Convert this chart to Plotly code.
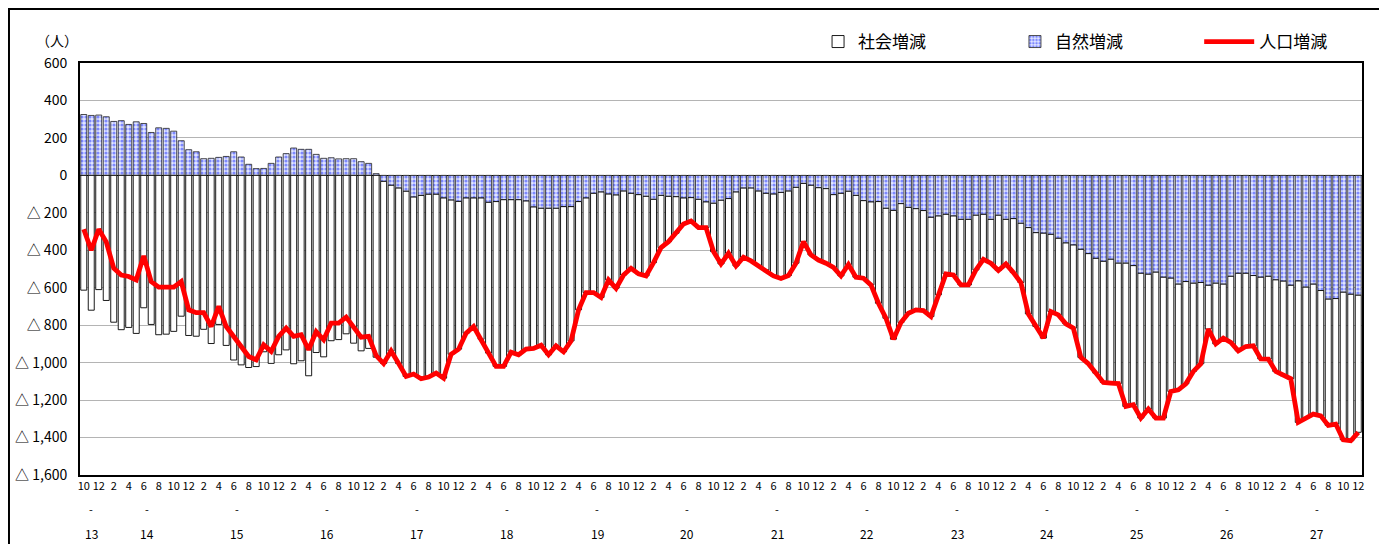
import plotly.graph_objects as go

# Months: October (H13) through December (H27)
n_months = 171
month_numbers = [(9 + i) % 12 + 1 for i in range(n_months)]
year_labels = ["13", "14", "15", "16", "17", "18", "19", "20",
               "21", "22", "23", "24", "25", "26", "27"]

# 自然増減 (natural increase/decrease)
natural = [325, 320, 322, 313, 288, 292, 272, 286, 277, 229, 254, 251, 236, 185, 137,
           126, 89, 91, 96, 101, 126, 98, 59, 36, 37, 64, 98, 116, 146, 139,
           139, 112, 91, 94, 88, 89, 89, 73, 64, 9, -32, -53, -68, -85, -116,
           -107, -101, -101, -121, -132, -139, -121, -121, -121, -144, -140, -130, -130, -130, -137,
           -169, -176, -176, -176, -167, -167, -140, -121, -96, -89, -100, -105, -84, -96, -103,
           -112, -128, -107, -112, -114, -121, -119, -128, -142, -149, -133, -124, -89, -68, -68,
           -84, -96, -100, -91, -84, -64, -43, -53, -66, -71, -103, -96, -85, -107, -135,
           -142, -140, -176, -187, -151, -171, -178, -188, -224, -217, -208, -217, -235, -235, -213,
           -208, -235, -213, -235, -231, -256, -279, -306, -309, -315, -336, -361, -372, -395, -418,
           -443, -459, -448, -469, -469, -482, -523, -528, -517, -544, -549, -581, -567, -576, -572,
           -587, -576, -581, -539, -523, -523, -535, -544, -539, -558, -565, -587, -564, -597, -581,
           -615, -661, -658, -624, -635, -640]

# 社会増減 (social increase/decrease)
social = [-613, -720, -610, -668, -784, -824, -812, -844, -707, -796, -851, -848, -833, -752, -855,
          -859, -822, -898, -796, -908, -986, -1012, -1026, -1021, -942, -1004, -958, -932, -1006, -990,
          -1070, -946, -969, -883, -877, -846, -896, -937, -924, -971, -973, -885, -937, -989, -945,
          -979, -976, -955, -962, -823, -789, -722, -686, -754, -805, -880, -890, -814, -828, -791,
          -755, -731, -782, -734, -775, -717, -578, -505, -530, -563, -458, -498, -448, -400, -423,
          -425, -338, -279, -242, -195, -139, -125, -151, -137, -258, -340, -292, -395, -369, -389,
          -398, -409, -437, -460, -451, -405, -311, -372, -386, -398, -389, -441, -391, -437, -414,
          -443, -543, -587, -688, -635, -565, -540, -534, -530, -421, -318, -315, -350, -350, -292,
          -240, -234, -295, -238, -288, -316, -461, -501, -560, -412, -409, -432, -444, -577, -588,
          -613, -647, -661, -643, -765, -743, -773, -720, -779, -752, -605, -564, -546, -471, -434,
          -234, -324, -288, -353, -414, -391, -375, -436, -442, -489, -505, -499, -755, -699, -694,
          -669, -674, -670, -788, -782, -732]

# 人口増減 (total population change)
total = [-288, -400, -288, -355, -496, -532, -540, -558, -430, -567, -597, -597, -597, -567, -718,
         -733, -733, -807, -700, -807, -860, -914, -967, -985, -905, -940, -860, -816, -860, -851,
         -931, -834, -878, -789, -789, -757, -807, -864, -860, -962, -1005, -938, -1005, -1074, -1061,
         -1086, -1077, -1056, -1083, -955, -928, -843, -807, -875, -949, -1020, -1020, -944, -958, -928,
         -924, -907, -958, -910, -942, -884, -718, -626, -626, -652, -558, -603, -532, -496, -526,
         -537, -466, -386, -354, -309, -260, -244, -279, -279, -407, -473, -416, -484, -437, -457,
         -482, -505, -537, -551, -535, -469, -354, -425, -452, -469, -492, -537, -476, -544, -549,
         -585, -683, -763, -875, -786, -736, -718, -722, -754, -638, -526, -532, -585, -585, -505,
         -448, -469, -508, -473, -519, -572, -740, -807, -869, -727, -745, -793, -816, -972, -1006,
         -1056, -1106, -1109, -1112, -1234, -1225, -1296, -1248, -1296, -1296, -1154, -1145, -1113, -1047, -1006,
         -821, -900, -869, -892, -937, -914, -910, -980, -981, -1047, -1070, -1086, -1319, -1296, -1275,
         -1284, -1335, -1328, -1412, -1417, -1372]

y_tick_vals = [600, 400, 200, 0, -200, -400, -600, -800, -1000, -1200, -1400, -1600]
y_tick_text = ["600", "400", "200", "0", "△ 200", "△ 400", "△ 600", "△ 800",
               "△ 1,000", "△ 1,200", "△ 1,400", "△ 1,600"]

x = list(range(n_months))
x_tick_vals = [i for i in x if i % 2 == 0]
x_tick_text = [str(month_numbers[i]) for i in x_tick_vals]

# centres of each year's months on the category axis
year_centers = []
start = 0
for k, _ in enumerate(year_labels):
    length = 3 if k == 0 else 12
    year_centers.append(start + (length - 1) / 2)
    start += length

FONT = "Noto Sans CJK JP, Noto Sans, sans-serif"

fig = go.Figure()
fig.add_trace(go.Bar(
    x=x, y=natural, name="自然増減", legend="legend2",
    marker=dict(color="#e2e6ff",
                pattern=dict(shape=".", fgcolor="#1a2cff", bgcolor="#e2e6ff",
                             size=4, solidity=0.5),
                line=dict(color="#222222", width=0.8)),
))
fig.add_trace(go.Bar(
    x=x, y=social, name="社会増減", legend="legend",
    marker=dict(color="#ffffff", line=dict(color="#000000", width=0.9)),
))
fig.add_trace(go.Scatter(
    x=x, y=total, name="人口増減", mode="lines", legend="legend3",
    line=dict(color="#ff0000", width=4.8),
))

legend_common = dict(orientation="h", yanchor="middle", y=1.051, xanchor="left",
                     bgcolor="rgba(0,0,0,0)", font=dict(size=17, family=FONT, color="#000"))

# The page body adds an 8px margin, so the figure is sized/margined to compensate.
fig.update_layout(
    width=1379, height=536,
    margin=dict(l=72, r=25, t=55, b=69, autoexpand=False),
    paper_bgcolor="white", plot_bgcolor="white",
    font=dict(family=FONT, color="#000"),
    barmode="relative", bargap=0.2,
    showlegend=True,
    legend=dict(x=0.5757, **legend_common),
    legend2=dict(x=0.7293, **legend_common),
    legend3=dict(x=0.873, itemwidth=50, **legend_common),
    xaxis=dict(range=[-0.5, n_months - 0.5], tickmode="array", tickvals=x_tick_vals,
               ticktext=x_tick_text, tickangle=0, showgrid=False, zeroline=False,
               showline=True, linecolor="#000", linewidth=2, mirror=True, automargin=False,
               tickfont=dict(size=11, family="Liberation Sans Narrow, " + FONT)),
    yaxis=dict(range=[-1600, 600], tickmode="array", tickvals=y_tick_vals,
               ticktext=y_tick_text, showgrid=True, gridcolor="#b4b4b4", gridwidth=1,
               zeroline=True, zerolinecolor="#000", zerolinewidth=1,
               showline=True, linecolor="#000", linewidth=2, mirror=True, automargin=False,
               ticklabelstandoff=8, tickfont=dict(size=14, family=FONT)),
)

annotations = [dict(text="（人）", xref="paper", yref="paper", x=-0.018, y=1.056,
                    showarrow=False, xanchor="center", yanchor="middle",
                    font=dict(size=14, family=FONT))]
for label, cx in zip(year_labels, year_centers):
    annotations.append(dict(text="-", xref="x", yref="paper", x=cx, y=-0.083,
                            showarrow=False, xanchor="center", yanchor="middle",
                            font=dict(size=11, family=FONT)))
    annotations.append(dict(text=label, xref="x", yref="paper", x=cx, y=-0.143,
                            showarrow=False, xanchor="center", yanchor="middle",
                            font=dict(size=12, family=FONT)))
fig.update_layout(annotations=annotations)

fig.add_shape(type="rect", xref="paper", yref="paper",
              x0=-0.0554, x1=1.0148, y0=-0.2, y1=1.131,
              line=dict(color="#000", width=2), fillcolor="rgba(0,0,0,0)", layer="below")

fig.write_html("out.html")
